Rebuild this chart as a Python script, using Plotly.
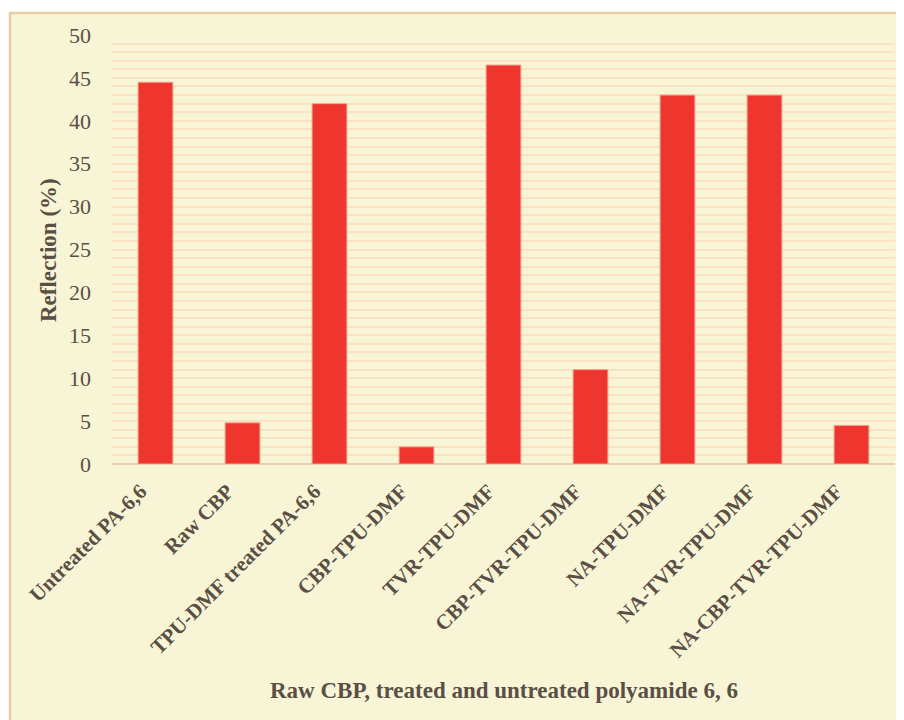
import plotly.graph_objects as go

categories = ["Untreated PA-6,6", "Raw CBP", "TPU-DMF treated PA-6,6", "CBP-TPU-DMF",
              "TVR-TPU-DMF", "CBP-TVR-TPU-DMF", "NA-TPU-DMF", "NA-TVR-TPU-DMF",
              "NA-CBP-TVR-TPU-DMF"]
reflection = [44.5, 4.8, 42.0, 2.0, 46.5, 11.0, 43.0, 43.0, 4.5]
y_ticks = [0, 5, 10, 15, 20, 25, 30, 35, 40, 45, 50]

OFF = 8  # default page body margin
W, H = 904 - OFF, 720 - OFF
# plot area in page pixels: x 112..895, y 35..464
L, T = 112 - OFF, 35 - OFF
pw, ph = 783, 429
R, B = W - L - pw, H - T - ph

def px(xp):
    return (xp - OFF - L) / pw

def py(yp):
    return (T + ph - (yp - OFF)) / ph

text_col = "#5b4f45"
grid_col = "#fae2c2"
bg_col = "#f7f5d6"

fig = go.Figure(go.Bar(
    x=categories, y=reflection, width=0.4,
    marker=dict(color="#ee352e", line=dict(color="#f6a48f", width=1)),
))

fig.add_shape(type="rect", xref="paper", yref="paper", layer="below",
              x0=px(10), x1=1.2, y0=-1.0, y1=py(13),
              fillcolor=bg_col, line=dict(color="#e7cca9", width=2.5))

fig.add_annotation(text="<b>Raw CBP, treated and untreated polyamide 6, 6</b>",
                   xref="paper", yref="paper", x=px(504), y=py(690),
                   showarrow=False, xanchor="center", yanchor="middle",
                   font=dict(size=23, family="Liberation Serif", color=text_col))
fig.add_annotation(text="<b>Reflection (%)</b>", textangle=-90,
                   xref="paper", yref="paper", x=px(48), y=py(250),
                   showarrow=False, xanchor="center", yanchor="middle",
                   font=dict(size=23, family="Liberation Serif", color=text_col))

fig.update_layout(
    width=W, height=H,
    margin=dict(l=L, r=R, t=T, b=B),
    paper_bgcolor="white", plot_bgcolor="rgba(0,0,0,0)",
    showlegend=False, bargap=0.6,
    font=dict(family="Liberation Serif", color=text_col),
    xaxis=dict(
        automargin=False,
        tickangle=-45, tickfont=dict(size=21, family="Liberation Serif", color=text_col, weight="bold"),
        ticklabelshift=-15, ticklabelstandoff=10,
        showgrid=False, showline=False, zeroline=False, ticks="",
    ),
    yaxis=dict(
        automargin=False,
        range=[0, 50], tickvals=y_ticks, ticktext=[str(v) for v in y_ticks],
        tickfont=dict(size=22, family="Liberation Serif", color=text_col), ticklabelstandoff=20,
        showgrid=True, gridcolor=grid_col, gridwidth=1.5,
        minor=dict(dtick=1, showgrid=True, gridcolor=grid_col, gridwidth=1.5),
        zeroline=True, zerolinecolor="#e8cfae", zerolinewidth=2,
    ),
)

fig.write_html("out.html")
